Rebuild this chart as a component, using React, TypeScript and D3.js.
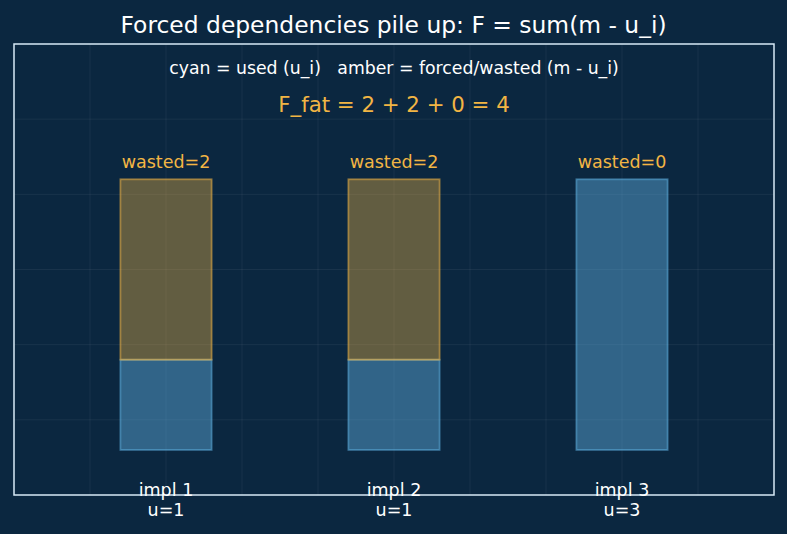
import { useEffect, useRef } from "react";
import * as d3 from "d3";

// implementations, their used deps (u_i) and the shared requirement m
const impls = ["impl 1", "impl 2", "impl 3"];
const used = [1, 1, 3];
const m = 3;
const xPositions = [2, 5, 8];

const BG = "#0b2740";
const AMBER = "#f2b544";
const CYAN = "#5fb0e0";

export default function App() {
  const ref = useRef<SVGSVGElement>(null);

  useEffect(() => {
    const width = 787;
    const height = 534;
    const margin = { top: 44, right: 13, bottom: 39, left: 14 };

    const svg = d3.select(ref.current);
    svg.selectAll("*").remove();

    svg.append("rect").attr("width", width).attr("height", height).attr("fill", BG);

    const xScale = d3
      .scaleLinear()
      .domain([0, 10])
      .range([margin.left, width - margin.right]);
    const yScale = d3
      .scaleLinear()
      .domain([0, 6])
      .range([height - margin.bottom, margin.top]);

    // grid
    const grid = svg.append("g");
    grid
      .selectAll("line.gx")
      .data(d3.range(1, 10))
      .enter()
      .append("line")
      .attr("x1", (d) => xScale(d))
      .attr("x2", (d) => xScale(d))
      .attr("y1", yScale(0))
      .attr("y2", yScale(6))
      .attr("stroke", "#ffffff")
      .attr("stroke-opacity", 0.08)
      .attr("stroke-width", 0.8);
    grid
      .selectAll("line.gy")
      .data(d3.range(1, 6))
      .enter()
      .append("line")
      .attr("y1", (d) => yScale(d))
      .attr("y2", (d) => yScale(d))
      .attr("x1", xScale(0))
      .attr("x2", xScale(10))
      .attr("stroke", "#ffffff")
      .attr("stroke-opacity", 0.08)
      .attr("stroke-width", 0.8);

    // bars: each unit is 1.2 tall, stacked from 0.6
    const base = 0.6;
    const unit = 1.2;
    const barW = 1.2;

    const bars = impls.map((name, i) => ({
      name,
      x: xPositions[i],
      u: used[i],
      wasted: m - used[i],
    }));

    const g = svg.append("g");
    g.selectAll("rect.used")
      .data(bars)
      .enter()
      .append("rect")
      .attr("x", (d) => xScale(d.x - barW / 2))
      .attr("width", xScale(barW) - xScale(0))
      .attr("y", (d) => yScale(base + d.u * unit))
      .attr("height", (d) => yScale(base) - yScale(base + d.u * unit))
      .attr("fill", CYAN)
      .attr("fill-opacity", 0.45)
      .attr("stroke", CYAN)
      .attr("stroke-opacity", 0.55)
      .attr("stroke-width", 1.8);

    g.selectAll("rect.wasted")
      .data(bars.filter((d) => d.wasted > 0))
      .enter()
      .append("rect")
      .attr("x", (d) => xScale(d.x - barW / 2))
      .attr("width", xScale(barW) - xScale(0))
      .attr("y", (d) => yScale(base + (d.u + d.wasted) * unit))
      .attr("height", (d) => yScale(base + d.u * unit) - yScale(base + (d.u + d.wasted) * unit))
      .attr("fill", AMBER)
      .attr("fill-opacity", 0.38)
      .attr("stroke", AMBER)
      .attr("stroke-opacity", 0.55)
      .attr("stroke-width", 1.8);

    g.selectAll("text.wasted")
      .data(bars)
      .enter()
      .append("text")
      .attr("x", (d) => xScale(d.x))
      .attr("y", (d) => yScale(base + m * unit) - 11)
      .attr("text-anchor", "middle")
      .attr("font-size", 17.5)
      .attr("fill", AMBER)
      .text((d) => `wasted=${d.wasted}`);

    // frame
    svg
      .append("rect")
      .attr("x", xScale(0))
      .attr("y", yScale(6))
      .attr("width", xScale(10) - xScale(0))
      .attr("height", yScale(0) - yScale(6))
      .attr("fill", "none")
      .attr("stroke", "#d8eaf6")
      .attr("stroke-width", 1.5);

    // category labels under the axis
    const labels = svg.append("g");
    labels
      .selectAll("text.name")
      .data(bars)
      .enter()
      .append("text")
      .attr("x", (d) => xScale(d.x))
      .attr("y", yScale(0) + 1)
      .attr("text-anchor", "middle")
      .attr("font-size", 17.5)
      .attr("fill", "#ffffff")
      .text((d) => d.name);
    labels
      .selectAll("text.u")
      .data(bars)
      .enter()
      .append("text")
      .attr("x", (d) => xScale(d.x))
      .attr("y", yScale(0) + 21)
      .attr("text-anchor", "middle")
      .attr("font-size", 17.5)
      .attr("fill", "#ffffff")
      .text((d) => `u=${d.u}`);

    svg
      .append("text")
      .attr("x", width / 2)
      .attr("y", 33)
      .attr("text-anchor", "middle")
      .attr("font-size", 23.4)
      .attr("fill", "#ffffff")
      .text("Forced dependencies pile up: F = sum(m - u_i)");

    svg
      .append("text")
      .attr("x", xScale(5))
      .attr("y", 74)
      .attr("text-anchor", "middle")
      .attr("font-size", 17.3)
      .attr("fill", "#ffffff")
      .style("white-space", "pre")
      .text("cyan = used (u_i)   amber = forced/wasted (m - u_i)");

    const total = d3.sum(bars, (d) => d.wasted);
    svg
      .append("text")
      .attr("x", xScale(5))
      .attr("y", 112)
      .attr("text-anchor", "middle")
      .attr("font-size", 21.3)
      .attr("fill", AMBER)
      .text(`F_fat = ${bars.map((d) => d.wasted).join(" + ")} = ${total}`);
  }, []);

  return (
    <svg
      ref={ref}
      width={787}
      height={534}
      style={{ position: "absolute", left: 0, top: 0, fontFamily: "DejaVu Sans" }}
    />
  );
}
